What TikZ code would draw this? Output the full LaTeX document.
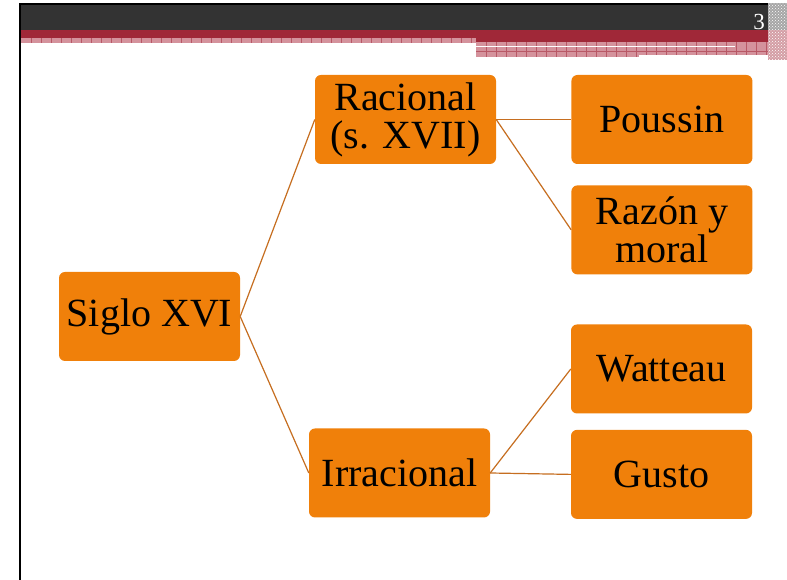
\documentclass[tikz,border=0pt]{standalone}
\usepackage{fontspec}
\setmainfont{Liberation Serif}
\usepackage{xcolor}
\usepackage{tikz}
\usetikzlibrary{positioning,patterns,calc}
\definecolor{barGray}{RGB}{51,51,51}
\definecolor{barRed}{RGB}{160,40,56}
\definecolor{stripPink}{RGB}{212,146,156}
\definecolor{stripLine}{RGB}{184,88,102}
\definecolor{boxOrange}{RGB}{240,128,10}
\definecolor{linkBrown}{RGB}{198,110,32}

\begin{document}
\begin{tikzpicture}[x=1pt,y=1pt,
  box/.style={fill=boxOrange,rounded corners=6pt,minimum width=181pt,
    minimum height=89pt,inner sep=0pt,align=center,
    font=\fontsize{40}{38}\selectfont},
  link/.style={draw=linkBrown,line width=1.2pt}]
\useasboundingbox (0,0) rectangle (787,580);
\fill[white] (0,0) rectangle (787,580);
% frame and header bars
\fill[black] (19,575) rectangle (787,577);
\fill[black] (19,0) rectangle (21,577);
\fill[barGray] (21,550) rectangle (787,575);
\fill[barRed] (21,542) rectangle (787,550);
\fill[barRed] (476,538) rectangle (768,542);
\fill[stripPink] (21,537) rectangle (476,542);
\fill[stripPink] (476,523) rectangle (768,538);
\foreach \x in {31,41,...,471}
  \draw[stripLine,line width=0.8pt] (\x,537) -- (\x,542);
\foreach \x in {486,496,...,766}
  \draw[stripLine,line width=0.8pt] (\x,523) -- (\x,538);
\draw[stripLine,line width=0.6pt] (476,528.5) -- (768,528.5);
\fill[white] (476,532.5) rectangle (735,534.2);
\fill[white] (639,523) rectangle (768,525);
\fill[barRed!45] (768,520) rectangle (787,550);
\fill[gray!70] (768,550) rectangle (787,577);
\fill[pattern=crosshatch dots,pattern color=white] (768,520) rectangle (787,577);
\node[text=white,font=\fontsize{23}{23}\selectfont,anchor=east,inner sep=0pt] (pagenum) at (765,557.5) {3};
% boxes
\node[box] (siglo) at (149.5,263.5) {Siglo XVI};
\node[box] (racional) at (405.5,460.5) {Racional\\(s. XVII)};
\node[box,right=75pt of racional] (poussin) {Poussin};
\node[box,below=21pt of poussin] (razon) {Razón y\\moral};
\node[box] (irracional) at (399.5,107) {Irracional};
\node[box] (watteau) at (661.5,211) {Watteau};
\node[box,below=16pt of watteau] (gusto) {Gusto};
% links
\draw[link] (siglo.east) -- (racional.west);
\draw[link] (siglo.east) -- (irracional.west);
\draw[link] (racional.east) -- (poussin.west);
\draw[link] (racional.east) -- (razon.west);
\draw[link] (irracional.east) -- (watteau.west);
\draw[link] (irracional.east) -- (gusto.west);
\end{tikzpicture}
\end{document}
